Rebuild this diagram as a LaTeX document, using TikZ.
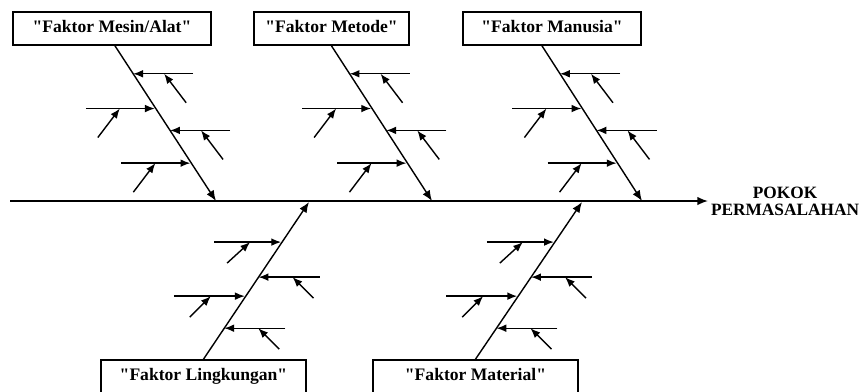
\documentclass[tikz,border=0pt]{standalone}
\usepackage{fontspec}
\setmainfont{Liberation Serif}
\newfontfamily\lurus{Liberation Serif}
\usetikzlibrary{arrows.meta,calc,positioning}

\tikzset{
  faktor/.style={draw, line width=1.2pt, minimum height=0.825cm, inner sep=2pt,
    text height=8.5pt, text depth=2.5pt,
    font=\lurus\fontsize{12.5}{13}\selectfont\bfseries},
  tulang/.style={line width=1pt, -{Latex[length=7.5pt,width=6pt]}},
  rusuk/.style={line width=1pt, -{Latex[length=7pt,width=5.5pt]}},
}

\begin{document}
\begin{tikzpicture}[x=0.025cm, y=-0.025cm]
\useasboundingbox (0,0) rectangle (861,391);
\clip (0,0) rectangle (861,391);

% kotak faktor atas
\node[faktor, minimum width=4.95cm]  (m1) at (112,28.5)  {"Faktor Mesin/Alat"};
\node[faktor, minimum width=3.875cm] (m2) at (331.5,28.5) {"Faktor Metode"};
\node[faktor, minimum width=4.45cm]  (m3) at (552,28.5)  {"Faktor Manusia"};

% kotak faktor bawah
\node[faktor, minimum width=5.125cm] (m4) at (203.5,376.5) {"Faktor Lingkungan"};
\node[faktor, minimum width=5.125cm] (m5) at (475.5,376.5) {"Faktor Material"};

% kepala ikan
\node[font=\fontsize{12.3}{12}\selectfont\bfseries, align=center, inner sep=2pt]
  (pokok) at (785,201) {POKOK\\PERMASALAHAN};

% tulang utama
\coordinate (ekor) at (10,201);
\draw[tulang] (ekor) -- (pokok.west);

% titik tulang
\coordinate (t1) at ($(m1.south)+(3,0)$);
\coordinate (t2) at (m2.south);
\coordinate (t3) at ($(m3.south)+(-10,0)$);
\coordinate (h1) at (216,201);
\coordinate (h2) at (432,201);
\coordinate (h3) at (642,201);
\coordinate (h4) at (309,202);
\coordinate (h5) at (582,202);

% tulang atas
\foreach \t/\h in {t1/h1, t2/h2, t3/h3} {
  \draw[tulang] (\t) -- (\h);
  \foreach \f/\lx/\ax/\bx in {0.18/60/53/31, 0.404/-70/-58/-36, 0.545/60/53/31, 0.756/-70/-58/-36} {
    \coordinate (p) at ($(\t)!\f!(\h)$);
    \ifdim \lx pt>0pt
      \draw[rusuk] ($(p)+(\lx,0)$) -- (p);
    \else
      \draw[rusuk] ($(p)+(\lx,0)$) -- ($(p)+(-1,0)$);
    \fi
    \draw[rusuk] ($(p)+(\ax,29)$) -- ($(p)+(\bx,0)$);
  }
}

% tulang bawah
\foreach \b/\h in {m4/h4, m5/h5} {
  \draw[tulang] (\b.north) -- (\h);
  \foreach \f/\lx/\ax/\bx in {0.255/-68/-55/-32, 0.478/61/55/34, 0.599/-72/-56/-35, 0.803/61/55/34} {
    \coordinate (p) at ($(\h)!\f!(\b.north)$);
    \ifdim \lx pt>0pt
      \draw[rusuk] ($(p)+(\lx,0)$) -- (p);
    \else
      \draw[rusuk] ($(p)+(\lx,0)$) -- ($(p)+(-1,0)$);
    \fi
    \draw[rusuk] ($(p)+(\ax,21)$) -- ($(p)+(\bx,0)$);
  }
}

\end{tikzpicture}
\end{document}
